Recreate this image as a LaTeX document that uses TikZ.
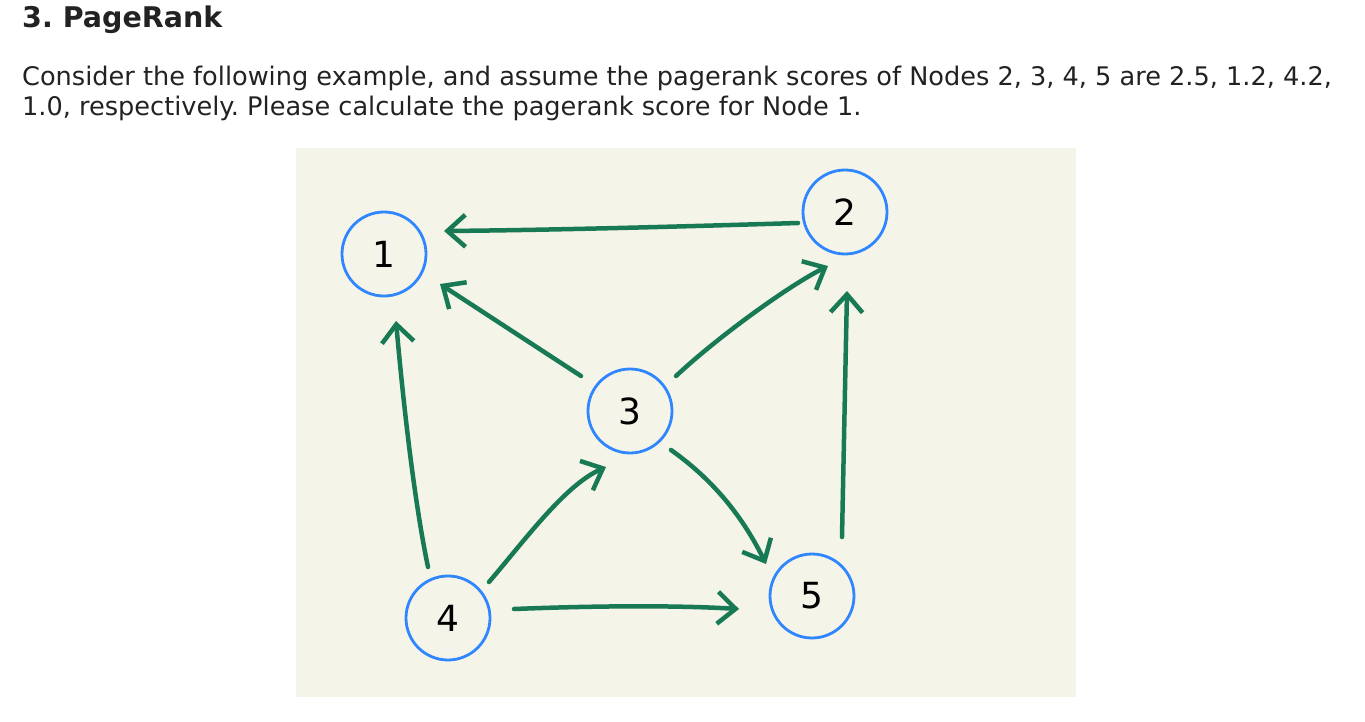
\documentclass[tikz,border=0pt]{standalone}
\usepackage{fontspec}
\setmainfont{DejaVu Sans}
\usetikzlibrary{arrows.meta,calc}
\definecolor{bgbeige}{HTML}{F5F4E8}
\definecolor{edgegreen}{HTML}{187A55}
\definecolor{ringblue}{HTML}{2F86FF}
\definecolor{txt}{HTML}{222222}
\frenchspacing
\begin{document}
\begin{tikzpicture}[x=1pt,y=-1pt,
  pnode/.style={circle, draw=ringblue, line width=2.8pt, minimum size=84pt, inner sep=0pt,
    font=\fontsize{36}{36}\selectfont, text=black},
  edge/.style={draw=edgegreen, line width=4.5pt, line cap=round, line join=round,
    -{Straight Barb[length=18pt,width=32pt]}},
  para/.style={anchor=base west, inner sep=0pt, text=txt, font=\fontsize{25.6}{30}\selectfont}]
\useasboundingbox (0,0) rectangle (1365,722);
\fill[white] (0,0) rectangle (1365,722);
\node[anchor=base west, inner sep=0pt, text=txt, font=\bfseries\fontsize{28.5}{30}\selectfont] (title) at (22,28) {3. PageRank};
\node[para] (line1) at (22,86) {Consider the following example, and assume the pagerank scores of Nodes 2, 3, 4, 5 are 2.5, 1.2, 4.2,};
\node[para] (line2) at (22,116) {1.0, respectively. Please calculate the pagerank score for Node 1.};
\fill[bgbeige] (296,148) rectangle (1076,697);
\node[pnode] (n1) at (384,254) {1};
\node[pnode] (n2) at (845,212) {2};
\node[pnode] (n3) at (630,411) {3};
\node[pnode] (n4) at (448,618) {4};
\node[pnode] (n5) at (812,596) {5};
% 2 -> 1
\draw[edge] ($(n2)+(-47,11)$) .. controls (700,226) and (560,230) .. ($(n1)+(60,-23)$);
% 3 -> 1
\draw[edge] ($(n3)+(-49,-35)$) -- ($(n1)+(56,30)$);
% 3 -> 2
\draw[edge] ($(n3)+(46,-35)$) .. controls (720,335) and (790,285) .. ($(n2)+(-17,54)$);
% 5 -> 2
\draw[edge] ($(n5)+(30,-59)$) -- ($(n2)+(2,79)$);
% 4 -> 1
\draw[edge] ($(n4)+(-20,-51)$) .. controls (414,500) and (403,400) .. ($(n1)+(12,67)$);
% 4 -> 3
\draw[edge] ($(n4)+(41,-36)$) .. controls (525,540) and (565,485) .. ($(n3)+(-24,56)$);
% 3 -> 5
\draw[edge] ($(n3)+(41,39)$) .. controls (702,472) and (737,505) .. ($(n5)+(-46,-32)$);
% 4 -> 5
\draw[edge] ($(n4)+(66,-9)$) .. controls (590,606) and (670,605) .. ($(n5)+(-73,13)$);
\end{tikzpicture}
\end{document}
